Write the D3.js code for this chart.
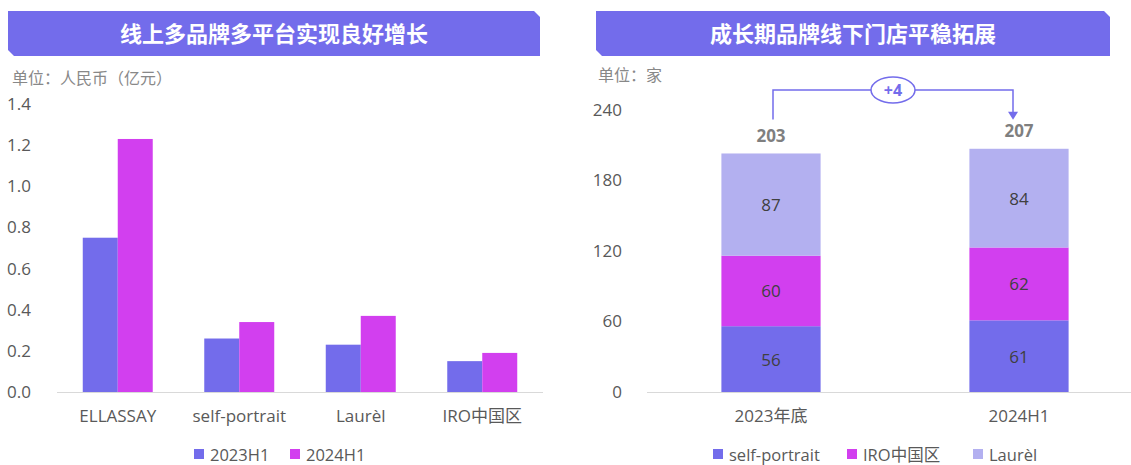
<!DOCTYPE html>
<html>
<head>
<meta charset="utf-8">
<script src="https://cdn.jsdelivr.net/npm/d3@7"></script>
<style>
body { margin: 0; background: #fff; }
svg text { font-family: "Open Sans", "Noto Sans CJK SC", sans-serif; }
.cjk { font-family: "Noto Sans CJK SC", sans-serif !important; }
</style>
</head>
<body>
<svg id="chart" width="1131" height="465"></svg>
<script>
// left chart data
var brands = ["ELLASSAY", "self-portrait", "Laurèl", "IRO中国区"];
var periods = ["2023H1", "2024H1"];
var rev2023 = [0.75, 0.26, 0.23, 0.15];
var rev2024 = [1.23, 0.34, 0.37, 0.19];
var revTicks = [0, 0.2, 0.4, 0.6, 0.8, 1.0, 1.2, 1.4];

// right chart data
var dates = ["2023年底", "2024H1"];
var storeBrands = ["self-portrait", "IRO中国区", "Laurèl"];
var storesSP = [56, 61];
var storesIRO = [60, 62];
var storesLaurel = [87, 84];
var storeTicks = [0, 60, 120, 180, 240];

var colBlue = "#736ceb",
    colPink = "#d23fef",
    colLight = "#b3b0f0",
    banner = "#736ceb";

var svg = d3.select("#chart");

// title banner with two cut corners
function drawBanner(x0, x1, y0, y1, title) {
    var c = 6;
    svg.append("path")
        .attr("d", "M" + x0 + "," + y0 + " L" + (x1 - c) + "," + y0 + " L" + x1 + "," + (y0 + c) +
            " L" + x1 + "," + y1 + " L" + (x0 + c) + "," + y1 + " L" + x0 + "," + (y1 - c) + "Z")
        .attr("fill", banner);
    svg.append("text")
        .attr("class", "cjk")
        .attr("x", (x0 + x1) / 2)
        .attr("y", (y0 + y1) / 2 + 8)
        .attr("text-anchor", "middle")
        .attr("fill", "#fff")
        .style("font-size", "22px")
        .style("font-weight", "bold")
        .text(title);
}

drawBanner(8, 540, 11, 56, "线上多品牌多平台实现良好增长");
drawBanner(596, 1110, 11, 56, "成长期品牌线下门店平稳拓展");

svg.append("text").attr("class", "cjk")
    .attr("x", 12).attr("y", 84)
    .attr("fill", "#888").style("font-size", "16px")
    .text("单位：人民币（亿元）");

svg.append("text").attr("class", "cjk")
    .attr("x", 598).attr("y", 81)
    .attr("fill", "#888").style("font-size", "16px")
    .text("单位：家");

// ---------- left: grouped bars ----------
var x0 = d3.scaleBand().domain(brands).range([57, 543])
    .paddingInner(0.424).paddingOuter(0.212);
var x1 = d3.scaleBand().domain(periods).range([0, x0.bandwidth()]);
var yL = d3.scaleLinear().domain([0, 1.4]).range([392, 104]);

var gL = svg.append("g");

var yAxisL = gL.append("g")
    .attr("transform", "translate(34,0)")
    .call(d3.axisLeft(yL).tickValues(revTicks).tickFormat(d3.format(".1f")).tickSize(0));
yAxisL.select(".domain").remove();
yAxisL.selectAll("text").attr("fill", "#595959").style("font-size", "17px")
    .style("font-family", "'Open Sans', sans-serif");

gL.append("line")
    .attr("x1", 57).attr("x2", 543)
    .attr("y1", yL(0) + 0.5).attr("y2", yL(0) + 0.5)
    .attr("stroke", "#d9d9d9");

var leftRows = brands.map(function (b, i) {
    return {brand: b, vals: [rev2023[i], rev2024[i]]};
});

var grp = gL.selectAll(".grp").data(leftRows).enter().append("g")
    .attr("transform", function (d) { return "translate(" + x0(d.brand) + ",0)"; });

grp.selectAll("rect").data(function (d) {
    return d.vals.map(function (v, j) { return {p: periods[j], v: v}; });
}).enter().append("rect")
    .attr("x", function (d) { return x1(d.p); })
    .attr("width", x1.bandwidth())
    .attr("y", function (d) { return yL(d.v); })
    .attr("height", function (d) { return yL(0) - yL(d.v); })
    .attr("fill", function (d, j) { return j === 0 ? colBlue : colPink; });

var xAxisL = gL.append("g")
    .attr("transform", "translate(0," + yL(0) + ")")
    .call(d3.axisBottom(x0).tickSize(0).tickPadding(18));
xAxisL.select(".domain").remove();
xAxisL.selectAll("text").attr("fill", "#595959").style("font-size", "17px");

// left legend
var legL = gL.append("g").attr("transform", "translate(194,454)");
periods.forEach(function (p, i) {
    var off = i * 96;
    legL.append("rect").attr("x", off).attr("y", -5).attr("width", 10).attr("height", 10)
        .attr("fill", i === 0 ? colBlue : colPink);
    legL.append("text").attr("x", off + 16).attr("y", 0)
        .attr("dominant-baseline", "central")
        .attr("fill", "#595959").style("font-size", "16.5px").text(p);
});

// ---------- right: stacked bars ----------
var xR = d3.scaleBand().domain(dates).range([647, 1143])
    .paddingInner(0.6).paddingOuter(0.3);
var yR = d3.scaleLinear().domain([0, 240]).range([392, 110]);

var gR = svg.append("g");

var yAxisR = gR.append("g")
    .attr("transform", "translate(625,0)")
    .call(d3.axisLeft(yR).tickValues(storeTicks).tickSize(0));
yAxisR.select(".domain").remove();
yAxisR.selectAll("text").attr("fill", "#595959").style("font-size", "17px")
    .style("font-family", "'Open Sans', sans-serif");

gR.append("line")
    .attr("x1", 647).attr("x2", 1131)
    .attr("y1", yR(0) + 0.5).attr("y2", yR(0) + 0.5)
    .attr("stroke", "#d9d9d9");

var table = dates.map(function (d, i) {
    return {date: d, sp: storesSP[i], iro: storesIRO[i], laurel: storesLaurel[i]};
});
var keys = ["sp", "iro", "laurel"];
var stackCols = [colBlue, colPink, colLight];
var series = d3.stack().keys(keys)(table);

var layer = gR.selectAll(".layer").data(series).enter().append("g")
    .attr("fill", function (d, i) { return stackCols[i]; });

layer.selectAll("rect").data(function (d) { return d; }).enter().append("rect")
    .attr("x", function (d) { return xR(d.data.date); })
    .attr("width", xR.bandwidth())
    .attr("y", function (d) { return yR(d[1]); })
    .attr("height", function (d) { return yR(d[0]) - yR(d[1]); });

layer.selectAll("text").data(function (d) { return d; }).enter().append("text")
    .attr("x", function (d) { return xR(d.data.date) + xR.bandwidth() / 2; })
    .attr("y", function (d) { return (yR(d[0]) + yR(d[1])) / 2; })
    .attr("dominant-baseline", "central")
    .attr("text-anchor", "middle")
    .attr("fill", "#404040")
    .style("font-size", "17px")
    .text(function (d) { return d[1] - d[0]; });

// totals
var totals = table.map(function (d) { return d.sp + d.iro + d.laurel; });
gR.selectAll(".total").data(table).enter().append("text")
    .attr("x", function (d) { return xR(d.date) + xR.bandwidth() / 2; })
    .attr("y", function (d, i) { return yR(totals[i]) - 18; })
    .attr("dominant-baseline", "central")
    .attr("text-anchor", "middle")
    .attr("fill", "#7f7f7f")
    .style("font-size", "17px")
    .style("font-weight", "bold")
    .text(function (d, i) { return totals[i]; });

// change bracket
var cA = xR(dates[0]) + xR.bandwidth() / 2 + 2,
    cB = xR(dates[1]) + xR.bandwidth() / 2 - 6,
    topY = 90;
gR.append("path")
    .attr("d", "M" + cA + "," + (yR(totals[0]) - 34) + " V" + topY + " H" + cB + " V" + (yR(totals[1]) - 36))
    .attr("fill", "none")
    .attr("stroke", colBlue)
    .attr("stroke-width", 1.5);
var tipY = yR(totals[1]) - 29;
gR.append("path")
    .attr("d", "M" + (cB - 5) + "," + (tipY - 8) + " L" + (cB + 5) + "," + (tipY - 8) + " L" + cB + "," + tipY + "Z")
    .attr("fill", colBlue);
var midX = (cA + cB) / 2;
gR.append("ellipse")
    .attr("cx", midX).attr("cy", topY)
    .attr("rx", 22).attr("ry", 13)
    .attr("fill", "#fff")
    .attr("stroke", colBlue)
    .attr("stroke-width", 1.5);
gR.append("text")
    .attr("x", midX).attr("y", topY)
    .attr("dominant-baseline", "central")
    .attr("text-anchor", "middle")
    .attr("fill", colBlue)
    .style("font-size", "16px")
    .style("font-weight", "bold")
    .text("+" + (totals[1] - totals[0]));

var xAxisR = gR.append("g")
    .attr("transform", "translate(0," + yR(0) + ")")
    .call(d3.axisBottom(xR).tickSize(0).tickPadding(18));
xAxisR.select(".domain").remove();
xAxisR.selectAll("text").attr("fill", "#595959").style("font-size", "17px");

// right legend
var legR = gR.append("g").attr("transform", "translate(713,454)");
var legOff = [0, 134, 260];
storeBrands.forEach(function (b, i) {
    legR.append("rect").attr("x", legOff[i]).attr("y", -5).attr("width", 10).attr("height", 10)
        .attr("fill", stackCols[i]);
    legR.append("text").attr("x", legOff[i] + 16).attr("y", 0)
        .attr("dominant-baseline", "central")
        .attr("fill", "#595959").style("font-size", "16.5px").text(b);
});
</script>
</body>
</html>
